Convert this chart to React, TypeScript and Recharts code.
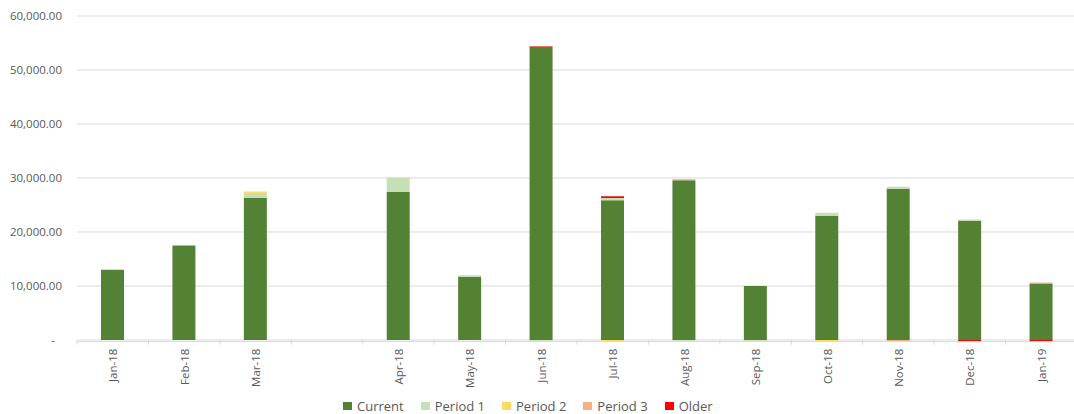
import { BarChart, Bar, XAxis, YAxis, CartesianGrid, Legend } from 'recharts';

// Aged balance by month, stacked by ageing bucket

const MONTHS = ['Jan-18', 'Feb-18', 'Mar-18', '', 'Apr-18', 'May-18', 'Jun-18', 'Jul-18', 'Aug-18', 'Sep-18', 'Oct-18', 'Nov-18', 'Dec-18', 'Jan-19'];
const CURRENT = [13000, 17500, 26300, 0, 27400, 11700, 54300, 25900, 29600, 10000, 23000, 28000, 22100, 10450];
const PERIOD_1 = [0, 0, 900, 0, 2600, 300, -150, 400, -150, -150, 550, 400, 200, 0];
const PERIOD_2 = [0, 0, 300, 0, 100, 0, 0, -200, 0, 0, -200, 0, 0, 0];
const PERIOD_3 = [0, 0, 0, 0, 0, 0, 0, 0, 150, 0, 0, -200, 0, 200];
const OLDER = [0, 0, 0, 0, 0, 0, 100, 300, 0, 0, 0, 0, -200, -200];
const Y_TICKS = [0, 10000, 20000, 30000, 40000, 50000, 60000];

const SERIES = [
  { key: 'current', name: 'Current', color: '#548235' },
  { key: 'period1', name: 'Period 1', color: '#C5E0B4' },
  { key: 'period2', name: 'Period 2', color: '#FFD966' },
  { key: 'period3', name: 'Period 3', color: '#F4B183' },
  { key: 'older', name: 'Older', color: '#FF0000' },
];

const chartData = MONTHS.map((month, i) => ({
  month,
  current: CURRENT[i],
  period1: PERIOD_1[i],
  period2: PERIOD_2[i],
  period3: PERIOD_3[i],
  older: OLDER[i],
}));

const FONT = '"Open Sans", sans-serif';
const TEXT = '#595959';
const GRID = '#D9D9D9';

const YTick = ({ x, y, payload }: any) => {
  const v = payload.value as number;
  const label = v === 0
    ? '-'
    : v.toLocaleString('en-US', { minimumFractionDigits: 2, maximumFractionDigits: 2 });
  return (
    <text x={v === 0 ? x - 7 : x} y={y} dy={4} textAnchor="end" fill={TEXT} fontSize={11.5} fontFamily={FONT}>
      {label}
    </text>
  );
};

const XTick = ({ x, y, payload }: any) => {
  const half = payload.offset || 35.7;
  return (
    <g>
      <line x1={x - half} x2={x - half} y1={y - 2} y2={y + 3} stroke={GRID} />
      {payload.value ? (
        <text
          transform={`translate(${x},${y + 7}) rotate(-90)`}
          textAnchor="end"
          dominantBaseline="central"
          fill={TEXT}
          fontSize={11.5}
          fontFamily={FONT}
        >
          {payload.value}
        </text>
      ) : null}
    </g>
  );
};

const renderLegend = () => (
  <div style={{ display: 'flex', alignItems: 'center', fontFamily: FONT, fontSize: 13, color: TEXT, whiteSpace: 'nowrap' }}>
    {SERIES.map((s) => (
      <div key={s.key} style={{ display: 'flex', alignItems: 'center', marginRight: 17 }}>
        <span style={{ display: 'inline-block', width: 9, height: 8, background: s.color, marginRight: 5 }} />
        <span>{s.name}</span>
      </div>
    ))}
  </div>
);

export default function App() {
  return (
    <div style={{ position: 'absolute', left: 0, top: 0, width: 1074, height: 414, overflow: 'hidden', background: '#fff' }}>
      <BarChart
        width={1080}
        height={414}
        data={chartData}
        stackOffset="sign"
        barSize={23}
        margin={{ top: 16, right: 3, left: 0, bottom: 0 }}
      >
        <CartesianGrid vertical={false} stroke={GRID} strokeWidth={1} />
        <XAxis
          dataKey="month"
          height={72.4}
          axisLine={false}
          tickLine={false}
          tickSize={0}
          tickMargin={0}
          interval={0}
          tick={<XTick />}
        />
        <YAxis
          width={77}
          domain={[-300, 60000]}
          ticks={Y_TICKS}
          allowDataOverflow
          axisLine={false}
          tickLine={false}
          tickSize={0}
          tickMargin={15}
          tick={<YTick />}
        />
        <Legend
          layout="vertical"
          align="center"
          verticalAlign="middle"
          content={renderLegend}
          wrapperStyle={{ left: 343, top: 397, width: 420, height: 16 }}
        />
        {SERIES.map((s) => (
          <Bar key={s.key} dataKey={s.key} name={s.name} stackId="a" fill={s.color} isAnimationActive={false} />
        ))}
      </BarChart>
    </div>
  );
}
